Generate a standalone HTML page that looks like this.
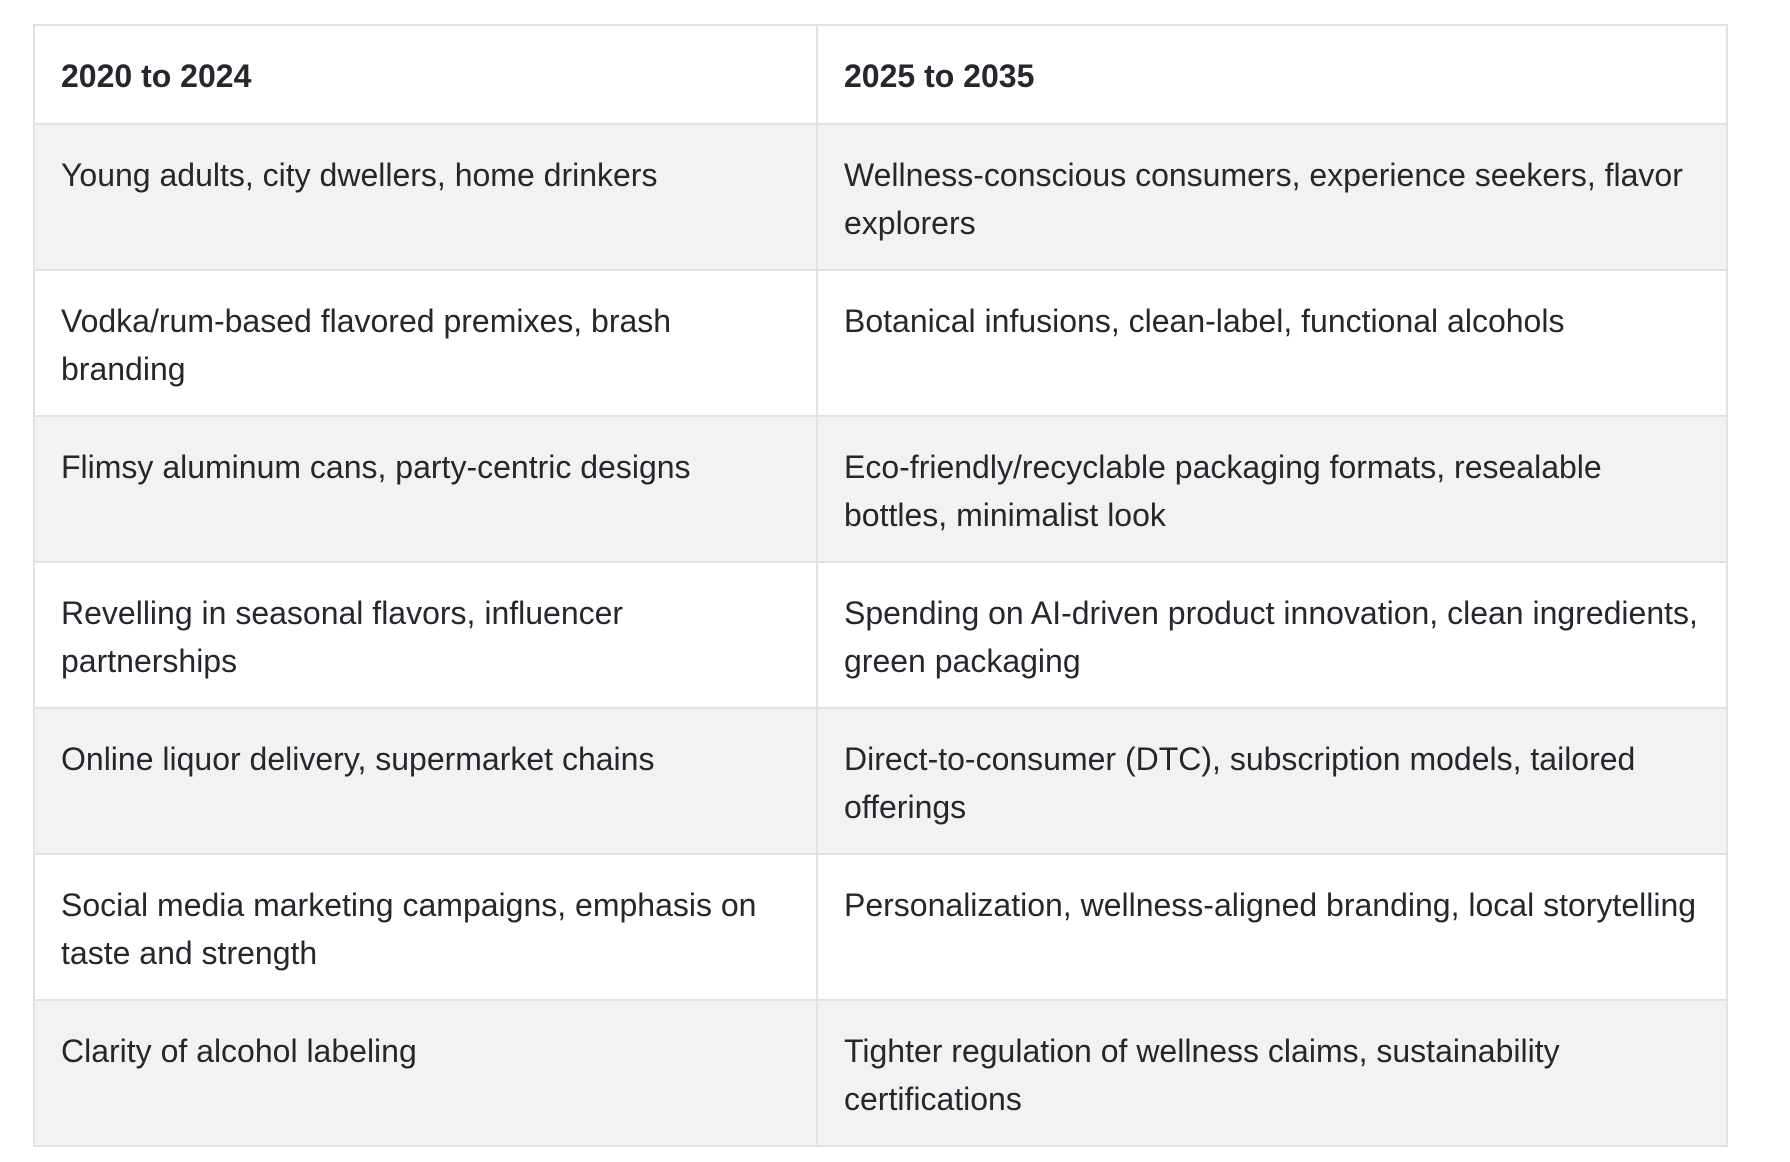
<!DOCTYPE html>
<html><head><meta charset="utf-8"><style>
html,body{margin:0;padding:0;background:#fff;width:1790px;height:1162px;overflow:hidden}
table{position:absolute;left:33px;top:24px;border-collapse:collapse;font-family:"Liberation Sans",sans-serif;font-size:32px;line-height:48px;color:#24272c;table-layout:fixed;width:1695px}
td,th{border:2px solid #e0e3e6;vertical-align:top;text-align:left;padding:26px 20px 0 26px;box-sizing:border-box}
th{height:99px;font-weight:bold}
td{height:146px}
tr.s td{background:#f2f2f2}
col.a{width:783px}
</style></head><body>
<table>
<colgroup><col class="a"><col></colgroup>
<tr><th>2020 to 2024</th><th>2025 to 2035</th></tr>
<tr class="s"><td>Young adults, city dwellers, home drinkers</td><td>Wellness-conscious consumers, experience seekers, flavor explorers</td></tr>
<tr><td>Vodka/rum-based flavored premixes, brash branding</td><td>Botanical infusions, clean-label, functional alcohols</td></tr>
<tr class="s"><td>Flimsy aluminum cans, party-centric designs</td><td>Eco-friendly/recyclable packaging formats, resealable bottles, minimalist look</td></tr>
<tr><td>Revelling in seasonal flavors, influencer partnerships</td><td>Spending on AI-driven product innovation, clean ingredients, green packaging</td></tr>
<tr class="s"><td>Online liquor delivery, supermarket chains</td><td>Direct-to-consumer (DTC), subscription models, tailored offerings</td></tr>
<tr><td>Social media marketing campaigns, emphasis on taste and strength</td><td>Personalization, wellness-aligned branding, local storytelling</td></tr>
<tr class="s"><td>Clarity of alcohol labeling</td><td>Tighter regulation of wellness claims, sustainability certifications</td></tr>
</table>
</body></html>
